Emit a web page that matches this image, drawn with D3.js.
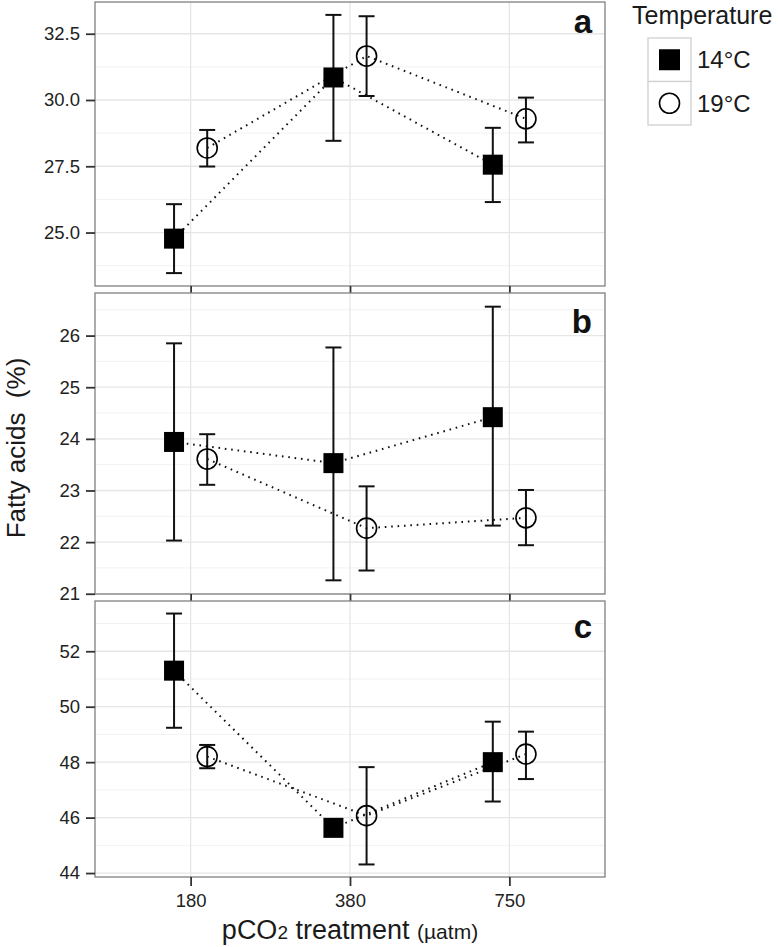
<!DOCTYPE html>
<html>
<head>
<meta charset="utf-8">
<script src="https://cdn.jsdelivr.net/npm/d3@7"></script>
<style>
  html, body { margin: 0; padding: 0; background: #fff; }
  svg { display: block; font-family: "Liberation Sans", Arial, Helvetica, sans-serif; }
</style>
</head>
<body>
<svg id="chart" width="778" height="947"></svg>
<script>
// ---------------- DATA ----------------
const categories = ["180", "380", "750"];
const groups = ["14°C", "19°C"];
const panelLabels = ["a", "b", "c"];

// Panel a
const aMean14 = [24.77, 30.85, 27.56];
const aLow14  = [23.47, 28.46, 26.15];
const aHigh14 = [26.07, 33.21, 28.95];
const aMean19 = [28.19, 31.66, 29.29];
const aLow19  = [27.49, 30.15, 28.40];
const aHigh19 = [28.87, 33.16, 30.09];
const aTicks  = [25.0, 27.5, 30.0, 32.5];

// Panel b
const bMean14 = [23.94, 23.53, 24.42];
const bLow14  = [22.03, 21.26, 22.32];
const bHigh14 = [25.85, 25.77, 26.56];
const bMean19 = [23.61, 22.27, 22.47];
const bLow19  = [23.11, 21.45, 21.94];
const bHigh19 = [24.09, 23.08, 23.01];
const bTicks  = [21, 22, 23, 24, 25, 26];

// Panel c
const cMean14 = [51.30, 45.63, 48.00];
const cLow14  = [49.24, 45.40, 46.58];
const cHigh14 = [53.36, 45.86, 49.46];
const cMean19 = [48.20, 46.07, 48.29];
const cLow19  = [47.78, 44.31, 47.39];
const cHigh19 = [48.62, 47.82, 49.10];
const cTicks  = [44, 46, 48, 50, 52];

const yTitle = "Fatty acids  (%)";
const legendTitle = "Temperature";

// ---------------- LAYOUT ----------------
const svg = d3.select("#chart");
const left = 95, right = 605;
const panels = [
  { label: panelLabels[0], top: 2,   bottom: 286, ticks: aTicks, fmt: d3.format(".1f"),
    series: [[aMean14, aLow14, aHigh14], [aMean19, aLow19, aHigh19]], labelDy: 31, xTick: 7 },
  { label: panelLabels[1], top: 293, bottom: 594, ticks: bTicks, fmt: d3.format("d"),
    series: [[bMean14, bLow14, bHigh14], [bMean19, bLow19, bHigh19]], labelDy: 40, xTick: 7 },
  { label: panelLabels[2], top: 601, bottom: 877, ticks: cTicks, fmt: d3.format("d"),
    series: [[cMean14, cLow14, cHigh14], [cMean19, cLow19, cHigh19]], labelDy: 37, xTick: 9 }
];

const x = d3.scalePoint().domain(categories).range([left, right]).padding(0.6);
const dodge = x.step() * 0.104;
const offsets = [-dodge, dodge];
const whisker = 8;

panels.forEach((p, pi) => {
  const lows = p.series.flatMap(s => s[1]);
  const highs = p.series.flatMap(s => s[2]);
  const lo = d3.min(lows), hi = d3.max(highs);
  const pad = (hi - lo) * 0.05;
  const y = d3.scaleLinear().domain([lo - pad, hi + pad]).range([p.bottom, p.top]);
  const g = svg.append("g");

  // background
  g.append("rect").attr("x", left).attr("y", p.top)
    .attr("width", right - left).attr("height", p.bottom - p.top).attr("fill", "#fff");

  // minor grid (midpoints between major ticks)
  const step = p.ticks[1] - p.ticks[0];
  const minors = [];
  for (let v = p.ticks[0] - step / 2; v <= p.ticks[p.ticks.length - 1] + step; v += step) {
    if (v > y.domain()[0] && v < y.domain()[1]) minors.push(v);
  }
  g.selectAll(".minor").data(minors).join("line")
    .attr("x1", left).attr("x2", right)
    .attr("y1", d => y(d)).attr("y2", d => y(d))
    .attr("stroke", "#f2f2f2").attr("stroke-width", 1);
  // major grid
  g.selectAll(".major").data(p.ticks).join("line")
    .attr("x1", left).attr("x2", right)
    .attr("y1", d => y(d)).attr("y2", d => y(d))
    .attr("stroke", "#e6e6e6").attr("stroke-width", 1.3);
  g.selectAll(".vmajor").data(categories).join("line")
    .attr("x1", d => x(d)).attr("x2", d => x(d))
    .attr("y1", p.top).attr("y2", p.bottom)
    .attr("stroke", "#e6e6e6").attr("stroke-width", 1.3);

  // dotted lines
  p.series.forEach((s, si) => {
    const line = d3.line()
      .x((d, i) => x(categories[i]) + offsets[si])
      .y(d => y(d));
    g.append("path").attr("d", line(s[0]))
      .attr("fill", "none").attr("stroke", "#111")
      .attr("stroke-width", 2).attr("stroke-dasharray", "1.6 4.8");
  });

  // error bars
  p.series.forEach((s, si) => {
    categories.forEach((c, i) => {
      const cx = x(c) + offsets[si];
      const eg = g.append("g").attr("stroke", "#111").attr("stroke-width", 2);
      eg.append("line").attr("x1", cx).attr("x2", cx).attr("y1", y(s[1][i])).attr("y2", y(s[2][i]));
      eg.append("line").attr("x1", cx - whisker).attr("x2", cx + whisker).attr("y1", y(s[1][i])).attr("y2", y(s[1][i]));
      eg.append("line").attr("x1", cx - whisker).attr("x2", cx + whisker).attr("y1", y(s[2][i])).attr("y2", y(s[2][i]));
    });
  });

  // points
  const s14 = p.series[0], s19 = p.series[1];
  g.selectAll(".sq").data(s14[0]).join("rect")
    .attr("x", (d, i) => x(categories[i]) + offsets[0] - 10)
    .attr("y", d => y(d) - 10)
    .attr("width", 20).attr("height", 20).attr("fill", "#000");
  g.selectAll(".ci").data(s19[0]).join("circle")
    .attr("cx", (d, i) => x(categories[i]) + offsets[1])
    .attr("cy", d => y(d))
    .attr("r", 10).attr("fill", "none").attr("stroke", "#000").attr("stroke-width", 1.6);

  // border
  g.append("rect").attr("x", left).attr("y", p.top)
    .attr("width", right - left).attr("height", p.bottom - p.top)
    .attr("fill", "none").attr("stroke", "#808080").attr("stroke-width", 1.3);

  // y axis
  const ya = g.append("g").attr("transform", `translate(${left},0)`)
    .call(d3.axisLeft(y).tickValues(p.ticks).tickFormat(p.fmt).tickSize(9).tickPadding(6));
  ya.select(".domain").remove();
  ya.selectAll("line").attr("stroke", "#333").attr("stroke-width", 1.8);
  ya.selectAll("text").attr("fill", "#222").attr("font-size", 18.5)
    .attr("font-family", "Liberation Sans, Arial, sans-serif");

  // x axis
  const xa = g.append("g").attr("transform", `translate(0,${p.bottom})`)
    .call(d3.axisBottom(x).tickSize(p.xTick).tickPadding(8));
  xa.select(".domain").remove();
  xa.selectAll("line").attr("stroke", "#333").attr("stroke-width", 1.8);
  if (pi < panels.length - 1) {
    xa.selectAll("text").remove();
  } else {
    xa.selectAll("text").attr("fill", "#222").attr("font-size", 18.5)
      .attr("font-family", "Liberation Sans, Arial, sans-serif");
  }

  // panel label
  g.append("text").attr("x", 592).attr("y", p.top + p.labelDy)
    .attr("text-anchor", "end").attr("font-weight", "bold").attr("font-size", 33)
    .attr("fill", "#111").text(p.label);
});

// y title
svg.append("text")
  .attr("transform", `translate(25,448) rotate(-90)`)
  .attr("text-anchor", "middle").attr("font-size", 26).attr("fill", "#1a1a1a")
  .style("white-space", "pre")
  .text(yTitle);

// x title
const xt = svg.append("text").attr("x", 350).attr("y", 939)
  .attr("text-anchor", "middle").attr("fill", "#1a1a1a").attr("font-size", 27);
xt.append("tspan").text("pCO");
xt.append("tspan").attr("font-size", 19).text("2");
xt.append("tspan").text(" treatment ");
xt.append("tspan").attr("font-size", 21).text("(µatm)");

// legend
const lg = svg.append("g");
lg.append("text").attr("x", 632).attr("y", 24).attr("font-size", 25).attr("fill", "#1a1a1a").text(legendTitle);
groups.forEach((gname, i) => {
  const ky = 38 + i * 43.5;
  lg.append("rect").attr("x", 648).attr("y", ky).attr("width", 43).attr("height", 43.5)
    .attr("fill", "#fff").attr("stroke", "#d0d0d0").attr("stroke-width", 1.3);
  const cx = 669.5, cy = ky + 21.75;
  if (i === 0) {
    lg.append("rect").attr("x", cx - 10.5).attr("y", cy - 10.5).attr("width", 21).attr("height", 21).attr("fill", "#000");
  } else {
    lg.append("circle").attr("cx", cx).attr("cy", cy).attr("r", 10)
      .attr("fill", "none").attr("stroke", "#000").attr("stroke-width", 1.6);
  }
  lg.append("text").attr("x", 697).attr("y", cy + 8.5).attr("font-size", 24).attr("fill", "#1a1a1a").text(gname);
});
</script>
</body>
</html>
